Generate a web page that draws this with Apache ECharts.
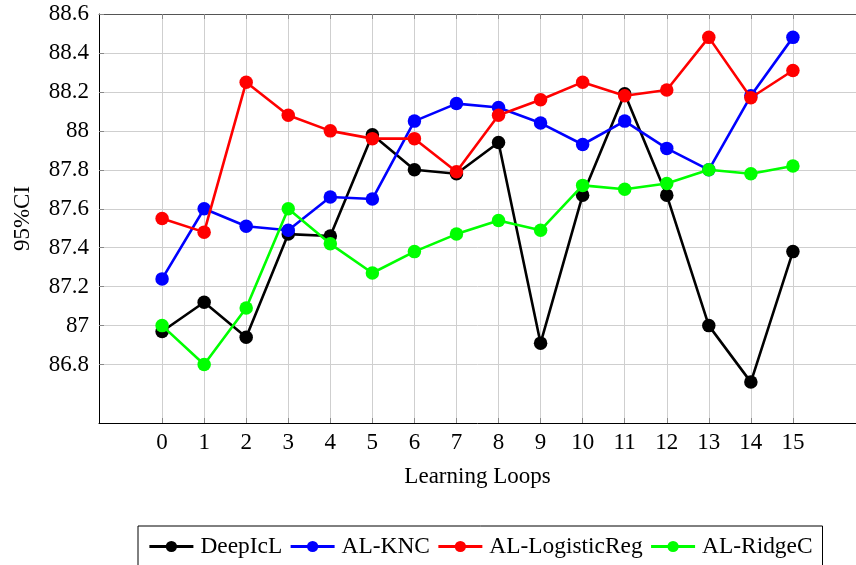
<!DOCTYPE html>
<html>
<head>
<meta charset="utf-8">
<script src="https://cdn.jsdelivr.net/npm/echarts@6/dist/echarts.min.js"></script>
<style>
  html, body { margin: 0; padding: 0; background: #ffffff; }
  #chart { width: 856px; height: 565px; }
</style>
</head>
<body>
<div id="chart"></div>
<script>
var loops = [0, 1, 2, 3, 4, 5, 6, 7, 8, 9, 10, 11, 12, 13, 14, 15];
var xTicks = [0, 1, 2, 3, 4, 5, 6, 7, 8, 9, 10, 11, 12, 13, 14, 15];
var yTicks = [86.8, 87, 87.2, 87.4, 87.6, 87.8, 88, 88.2, 88.4, 88.6];

var deepIcL = [86.97, 87.12, 86.94, 87.47, 87.46, 87.98, 87.80, 87.78, 87.94, 86.91, 87.67, 88.19, 87.67, 87.00, 86.71, 87.38];
var alKNC = [87.24, 87.60, 87.51, 87.49, 87.66, 87.65, 88.05, 88.14, 88.12, 88.04, 87.93, 88.05, 87.91, 87.80, 88.18, 88.48];
var alLogReg = [87.55, 87.48, 88.25, 88.08, 88.00, 87.96, 87.96, 87.79, 88.08, 88.16, 88.25, 88.18, 88.21, 88.48, 88.17, 88.31];
var alRidgeC = [87.00, 86.80, 87.09, 87.60, 87.42, 87.27, 87.38, 87.47, 87.54, 87.49, 87.72, 87.70, 87.73, 87.80, 87.78, 87.82];

var seriesNames = ['DeepIcL', 'AL-KNC', 'AL-LogisticReg', 'AL-RidgeC'];
var seriesValues = [deepIcL, alKNC, alLogReg, alRidgeC];
var seriesColors = ['#000000', '#0000ff', '#ff0000', '#00ff00'];

var FONT = '"Liberation Serif", "DejaVu Serif", serif';
var FS = 23;

function pairs(vals) {
  return loops.map(function (x, i) { return [x, vals[i]]; });
}

var chart = echarts.init(document.getElementById('chart'), null, { renderer: 'canvas' });

var option = {
  backgroundColor: '#ffffff',
  animation: false,
  grid: {
    left: 99,
    top: 14,
    right: -11,
    bottom: 142,
    containLabel: false
  },
  xAxis: [{
    type: 'value',
    min: -1.5,
    max: 16.5,
    position: 'bottom',
    name: 'Learning Loops',
    nameLocation: 'middle',
    nameGap: 42,
    nameTextStyle: { fontFamily: FONT, fontSize: FS, color: '#000' },
    axisLine: { show: true, onZero: false, lineStyle: { color: '#000', width: 1 } },
    axisTick: { show: true, inside: true, length: 5, customValues: xTicks, lineStyle: { color: '#888' } },
    axisLabel: { show: true, customValues: xTicks, margin: 8, fontFamily: FONT, fontSize: FS, color: '#000' },
    splitLine: { show: true, lineStyle: { color: '#cfcfcf', width: 1 } }
  }, {
    type: 'value',
    min: -1.5,
    max: 16.5,
    position: 'top',
    axisLine: { show: true, onZero: false, lineStyle: { color: '#555', width: 1 } },
    axisTick: { show: true, inside: true, length: 5, customValues: xTicks, lineStyle: { color: '#888' } },
    axisLabel: { show: false },
    splitLine: { show: false }
  }],
  yAxis: [{
    type: 'value',
    min: 86.5,
    max: 88.6,
    name: '95%CI',
    nameLocation: 'middle',
    nameRotate: 90,
    nameGap: 65,
    nameTextStyle: { fontFamily: FONT, fontSize: FS, color: '#000' },
    axisLine: { show: true, onZero: false, lineStyle: { color: '#000', width: 1 } },
    axisTick: { show: true, inside: true, length: 5, customValues: yTicks, lineStyle: { color: '#888' } },
    axisLabel: { show: true, customValues: yTicks, margin: 10, fontFamily: FONT, fontSize: FS, color: '#000' },
    splitLine: { show: true, lineStyle: { color: '#cfcfcf', width: 1 } }
  }],
  legend: {
    left: 138,
    top: 526,
    orient: 'horizontal',
    backgroundColor: '#ffffff',
    borderColor: '#000',
    borderWidth: 1,
    borderRadius: 0,
    padding: [9, 10, 9, 10],
    itemGap: 7,
    itemWidth: 44,
    itemHeight: 14,
    lineStyle: { width: 2.8 },
    textStyle: { fontFamily: FONT, fontSize: 23.4, color: '#000', padding: [0, 0, 0, 2] },
    data: seriesNames
  },
  series: seriesNames.map(function (name, k) {
    return {
      name: name,
      type: 'line',
      xAxisIndex: 0,
      yAxisIndex: 0,
      data: pairs(seriesValues[k]),
      symbol: 'circle',
      symbolSize: 13.5,
      showSymbol: true,
      clip: false,
      color: seriesColors[k],
      lineStyle: { color: seriesColors[k], width: 2.6 },
      itemStyle: { color: seriesColors[k] },
      z: 2 + k
    };
  })
};

chart.setOption(option);
</script>
</body>
</html>
